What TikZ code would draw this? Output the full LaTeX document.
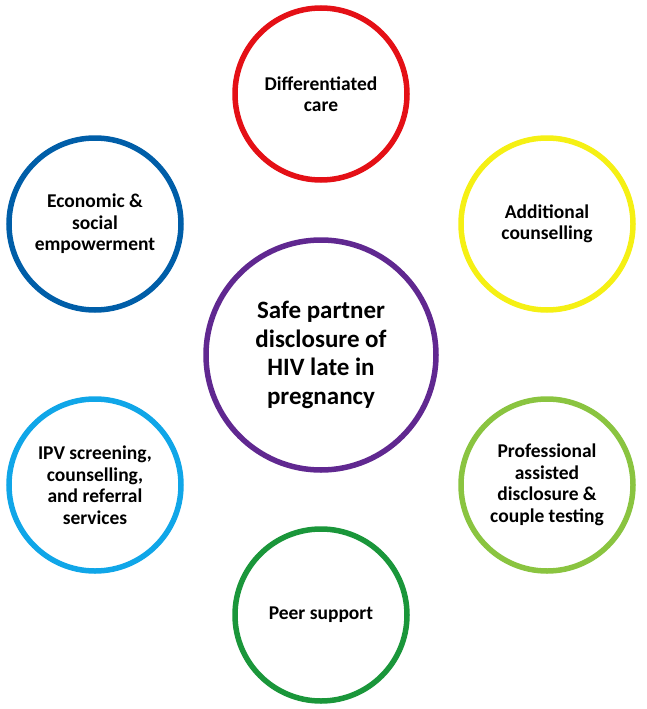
\documentclass[tikz,border=0pt]{standalone}
\usepackage{fontspec}
\setmainfont{Carlito}
\usepackage{xcolor}
\usepackage{tikz}
\definecolor{ringred}{RGB}{228,16,22}
\definecolor{ringyellow}{RGB}{245,240,20}
\definecolor{ringblue}{RGB}{0,94,168}
\definecolor{ringsky}{RGB}{16,166,232}
\definecolor{ringlime}{RGB}{138,196,64}
\definecolor{ringgreen}{RGB}{26,150,58}
\definecolor{ringpurple}{RGB}{96,40,144}
\tikzset{ring/.style={shape=circle,draw=#1,line width=5.5pt,minimum size=172pt,inner sep=0pt,align=center,
  font=\bfseries\fontsize{19.5}{21.5}\selectfont},
  hub/.style={ring=#1,minimum size=230pt,font=\bfseries\fontsize{25}{28.5}\selectfont}}

\begin{document}
\begin{tikzpicture}[x=1pt,y=-1pt]
\useasboundingbox (0,0) rectangle (646,709);
\node[hub=ringpurple](hub) at (321,355){Safe partner\\disclosure of\\HIV late in\\pregnancy};
\node[ring=ringred](care) at (321,94){Differentiated\\care};
\node[ring=ringblue](econ) at (95,224){Economic \&\\social\\empowerment};
\node[ring=ringyellow](couns) at (547,224){Additional\\counselling};
\node[ring=ringsky](ipv) at (95,485){IPV screening,\\counselling,\\and referral\\services};
\node[ring=ringlime](prof) at (547,485){Professional\\assisted\\disclosure \&\\couple testing};
\node[ring=ringgreen](peer) at (321,615){Peer support};
\end{tikzpicture}
\end{document}
